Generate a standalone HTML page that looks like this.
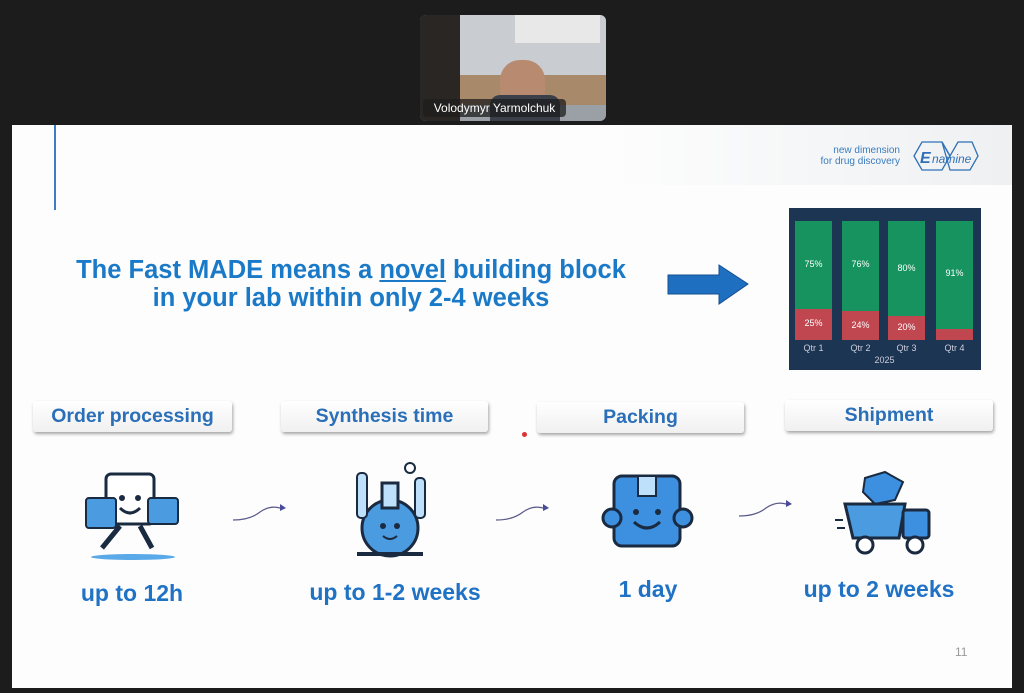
<!DOCTYPE html>
<html><head><meta charset="utf-8"><style>
body{margin:0;width:1024px;height:693px;background:#1c1c1c;position:relative;overflow:hidden;font-family:"Liberation Sans",sans-serif}
.a{position:absolute}
.slide{left:12px;top:125px;width:1000px;height:563px;background:#fdfdfd}
.lbl{position:absolute;height:31px;background:linear-gradient(#fff,#f0f0f0);border-radius:3px;box-shadow:1px 2px 3px rgba(0,0,0,.35);color:#2a6fb8;font-weight:bold;font-size:19.5px;text-align:center;line-height:31px}
.bt{position:absolute;color:#1f72c4;font-weight:bold;font-size:23px;text-align:center;width:240px}
.h{position:absolute;color:#1b7ac8;font-weight:bold;font-size:25.5px;text-align:center;width:680px;left:11px}
.bar{position:absolute;width:37px}
.g{background:#16935f}.r{background:#c0474f}
.pc{position:absolute;color:#fff;font-size:9px;width:37px;text-align:center}
.q{position:absolute;color:#ccd;font-size:9px;width:47px;text-align:center}
</style></head><body>
<div class="a" style="left:420px;top:15px;width:186px;height:106px;background:#9aa0a6;border-radius:6px;overflow:hidden">
 <div class="a" style="left:0;top:0;width:40px;height:106px;background:#2a2623"></div>
 <div class="a" style="left:40px;top:0;width:146px;height:60px;background:#c9cdd1"></div>
 <div class="a" style="left:40px;top:60px;width:146px;height:30px;background:#a8896a"></div>
 <div class="a" style="left:95px;top:0;width:85px;height:28px;background:#e8e8e8"></div>
 <div class="a" style="left:80px;top:45px;width:45px;height:50px;background:#b88a70;border-radius:20px"></div>
 <div class="a" style="left:70px;top:80px;width:70px;height:26px;background:#3a3f4a;border-radius:10px 10px 0 0"></div>
 <div class="a" style="left:3px;top:84px;width:143px;height:18px;background:rgba(30,30,30,.75);border-radius:4px;color:#fff;font-size:12px;line-height:18px;text-align:center">Volodymyr Yarmolchuk</div>
</div>
<div class="a slide"></div>
<div class="a" style="left:12px;top:125px;width:1000px;height:60px;background:linear-gradient(90deg,#fdfdfd 60%,#eef0f2)"></div>
<div class="a" style="left:54px;top:125px;width:2px;height:85px;background:#3c7ec4"></div>
<div class="a" style="left:790px;top:145px;width:110px;color:#3a7cc0;font-size:10px;text-align:right;line-height:11px">new dimension<br>for drug discovery</div>
<svg class="a" style="left:910px;top:138px" width="70" height="36"><polygon points="4,18 12,4 32,4 40,18 32,32 12,32" fill="none" stroke="#2f70b6" stroke-width="1.3"/><polygon points="32,4 40,18 48,4 62,4 68,18 60,32 40,32" fill="none" stroke="#2f70b6" stroke-width="1.3"/><text x="10" y="25" font-size="16" font-style="italic" font-weight="bold" fill="#2f70b6" font-family="Liberation Sans">E</text><text x="22" y="25" font-size="12" font-style="italic" fill="#2f70b6" font-family="Liberation Sans">namine</text></svg>
<div class="h" style="top:256px">The Fast MADE means a <u>novel</u> building block</div>
<div class="h" style="top:284px">in your lab within only 2-4 weeks</div>
<svg class="a" style="left:667px;top:264px" width="83" height="41"><polygon points="1,11 52,11 52,1 81,20 52,40 52,30 1,30" fill="#1f6fc0" stroke="#144f8f"/></svg>
<div class="a" style="left:789px;top:208px;width:192px;height:162px;background:#1b3552"></div>
<div class="bar g" style="left:795px;top:221px;height:88px"></div><div class="bar r" style="left:795px;top:309px;height:31px"></div>
<div class="bar g" style="left:842px;top:221px;height:90px"></div><div class="bar r" style="left:842px;top:311px;height:29px"></div>
<div class="bar g" style="left:888px;top:221px;height:95px"></div><div class="bar r" style="left:888px;top:316px;height:24px"></div>
<div class="bar g" style="left:936px;top:221px;height:108px"></div><div class="bar r" style="left:936px;top:329px;height:11px"></div>
<div class="pc" style="left:795px;top:259px">75%</div><div class="pc" style="left:842px;top:259px">76%</div><div class="pc" style="left:888px;top:263px">80%</div><div class="pc" style="left:936px;top:268px">91%</div>
<div class="pc" style="left:795px;top:318px">25%</div><div class="pc" style="left:842px;top:320px">24%</div><div class="pc" style="left:888px;top:322px">20%</div>
<div class="q" style="left:790px;top:343px">Qtr 1</div><div class="q" style="left:837px;top:343px">Qtr 2</div><div class="q" style="left:883px;top:343px">Qtr 3</div><div class="q" style="left:931px;top:343px">Qtr 4</div>
<div class="q" style="left:861px;top:355px">2025</div>
<div class="lbl" style="left:33px;top:401px;width:199px">Order processing</div>
<div class="lbl" style="left:281px;top:401px;width:207px">Synthesis time</div>
<div class="lbl" style="left:537px;top:402px;width:207px">Packing</div>
<div class="lbl" style="left:785px;top:400px;width:208px">Shipment</div>
<div class="a" style="left:522px;top:432px;width:5px;height:5px;border-radius:3px;background:#d33"></div>
<svg class="a" style="left:80px;top:468px" width="105" height="95"><ellipse cx="53" cy="89" rx="42" ry="3" fill="#5aa9e8"/><rect x="26" y="6" width="48" height="50" rx="5" fill="#fff" stroke="#1a2a40" stroke-width="3"/><rect x="6" y="30" width="30" height="30" rx="3" fill="#4a9be0" stroke="#1a2a40" stroke-width="2"/><rect x="68" y="30" width="30" height="26" rx="3" fill="#4a9be0" stroke="#1a2a40" stroke-width="2"/><circle cx="42" cy="30" r="3" fill="#1a2a40"/><circle cx="58" cy="30" r="3" fill="#1a2a40"/><path d="M40 40 Q50 50 60 40" stroke="#1a2a40" stroke-width="3" fill="none"/><path d="M40 58 L22 80 M60 58 L72 80" stroke="#1a2a40" stroke-width="5"/></svg>
<svg class="a" style="left:345px;top:458px" width="90" height="100"><circle cx="45" cy="70" r="28" fill="#4a9be0" stroke="#1a2a40" stroke-width="3"/><rect x="37" y="25" width="16" height="25" fill="#bfe0fa" stroke="#1a2a40" stroke-width="3"/><rect x="12" y="15" width="10" height="45" rx="4" fill="#bfe0fa" stroke="#1a2a40" stroke-width="2"/><rect x="70" y="20" width="10" height="40" rx="4" fill="#bfe0fa" stroke="#1a2a40" stroke-width="2"/><circle cx="38" cy="68" r="3" fill="#1a2a40"/><circle cx="52" cy="68" r="3" fill="#1a2a40"/><path d="M38 78 Q45 84 52 78" stroke="#1a2a40" stroke-width="2" fill="none"/><circle cx="65" cy="10" r="5" fill="none" stroke="#1a2a40" stroke-width="2"/><rect x="12" y="94" width="66" height="4" fill="#1a2a40"/></svg>
<svg class="a" style="left:600px;top:470px" width="95" height="85"><rect x="14" y="6" width="66" height="70" rx="8" fill="#3d8fe0" stroke="#1a2a40" stroke-width="3"/><rect x="38" y="6" width="18" height="20" fill="#bfe0fa" stroke="#1a2a40" stroke-width="2"/><circle cx="12" cy="48" r="9" fill="#3d8fe0" stroke="#1a2a40" stroke-width="3"/><circle cx="83" cy="48" r="9" fill="#3d8fe0" stroke="#1a2a40" stroke-width="3"/><circle cx="36" cy="42" r="3" fill="#1a2a40"/><circle cx="58" cy="42" r="3" fill="#1a2a40"/><path d="M34 52 Q47 64 60 52" stroke="#1a2a40" stroke-width="3" fill="none"/></svg>
<svg class="a" style="left:835px;top:470px" width="105" height="88"><path d="M30 8 L50 2 L68 12 L60 30 L40 34 L28 22 Z" fill="#3d8fe0" stroke="#1a2a40" stroke-width="2"/><path d="M10 34 L70 34 L64 68 L18 68 Z" fill="#4a9be0" stroke="#1a2a40" stroke-width="3"/><rect x="68" y="40" width="26" height="28" rx="3" fill="#3d8fe0" stroke="#1a2a40" stroke-width="3"/><circle cx="30" cy="75" r="8" fill="#fff" stroke="#1a2a40" stroke-width="3"/><circle cx="80" cy="75" r="8" fill="#fff" stroke="#1a2a40" stroke-width="3"/><path d="M0 50h8M2 58h8" stroke="#1a2a40" stroke-width="2"/></svg>
<svg class="a" style="left:230px;top:500px" width="60" height="25"><path d="M3 20 Q20 20 30 12 Q40 5 50 8" stroke="#5a5a8a" stroke-width="1.2" fill="none"/><polygon points="50,4 56,8 50,11" fill="#4a4a9a"/></svg>
<svg class="a" style="left:493px;top:500px" width="60" height="25"><path d="M3 20 Q20 20 30 12 Q40 5 50 8" stroke="#5a5a8a" stroke-width="1.2" fill="none"/><polygon points="50,4 56,8 50,11" fill="#4a4a9a"/></svg>
<svg class="a" style="left:736px;top:496px" width="60" height="25"><path d="M3 20 Q20 20 30 12 Q40 5 50 8" stroke="#5a5a8a" stroke-width="1.2" fill="none"/><polygon points="50,4 56,8 50,11" fill="#4a4a9a"/></svg>
<div class="bt" style="left:12px;top:580px">up to 12h</div>
<div class="bt" style="left:275px;top:579px">up to 1-2 weeks</div>
<div class="bt" style="left:528px;top:576px">1 day</div>
<div class="bt" style="left:759px;top:576px">up to 2 weeks</div>
<div class="a" style="left:955px;top:645px;color:#999;font-size:12px">11</div>
</body></html>
